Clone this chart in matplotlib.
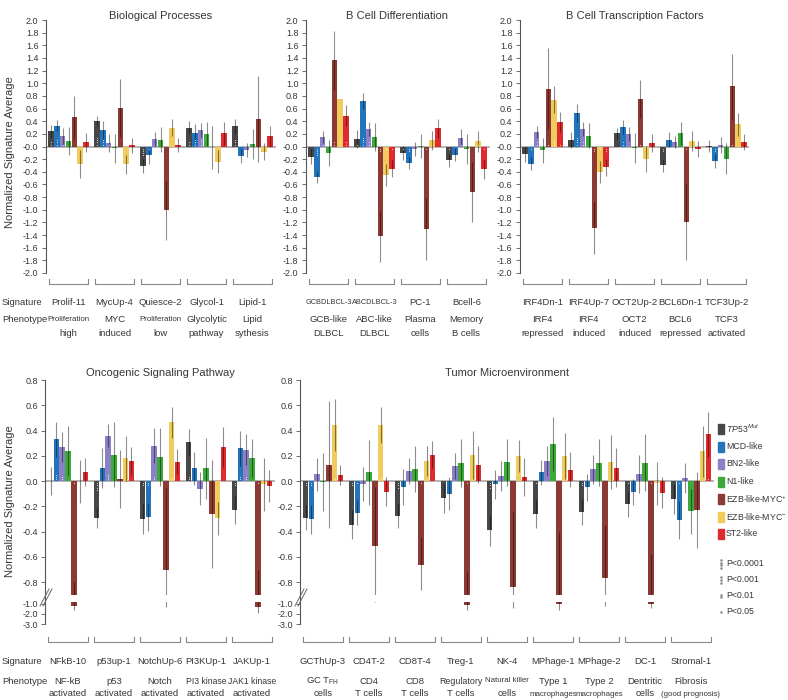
import numpy as np
import matplotlib.pyplot as plt
from matplotlib.patches import Rectangle
from matplotlib.lines import Line2D
from matplotlib.transforms import ScaledTranslation, blended_transform_factory

plt.rcParams['font.family'] = ['Liberation Sans', 'DejaVu Sans']
plt.rcParams['mathtext.fontset'] = 'custom'
plt.rcParams['mathtext.rm'] = 'Liberation Sans'
plt.rcParams['mathtext.it'] = 'Liberation Sans:italic'
plt.rcParams['axes.unicode_minus'] = False

# subtypes (legend) and colours
subtypes = [r'$\mathit{TP53^{Mut}}$', 'MCD-like', 'BN2-like', 'N1-like',
            r'EZB-like-MYC$^{+}$', r'EZB-like-MYC$^{-}$', 'ST2-like']
colors = ['#474747', '#2474bb', '#8b81c6', '#3da93a', '#8e3a34', '#f1cb5b', '#df2a2f']
pvals = ['P<0.0001', 'P<0.001', 'P<0.01', 'P<0.05']

# ---- Biological Processes
bio_sig_names = ['Prolif-11', 'MycUp-4', 'Quiesce-2', 'Glycol-1', 'Lipid-1']
bio_phen = [('Proliferation', 'high'), ('MYC', 'induced'), ('Proliferation', 'low'),
            ('Glycolytic', 'pathway'), ('Lipid', 'sythesis')]
bio_vals = [[0.24, 0.33, 0.16, 0.09, 0.46, -0.28, 0.07],
            [0.40, 0.26, 0.06, -0.03, 0.61, -0.28, 0.02],
            [-0.31, -0.14, 0.12, 0.11, -1.01, 0.30, 0.03],
            [0.30, 0.21, 0.26, 0.20, -0.01, -0.24, 0.21],
            [0.32, -0.15, -0.06, 0.04, 0.44, -0.08, 0.16]]
bio_errs = [[0.10, 0.09, 0.13, 0.22, 0.34, 0.22, 0.15],
            [0.08, 0.14, 0.14, 0.23, 0.46, 0.15, 0.12],
            [0.11, 0.13, 0.11, 0.20, 0.47, 0.13, 0.11],
            [0.10, 0.14, 0.11, 0.19, 0.34, 0.18, 0.18],
            [0.12, 0.11, 0.11, 0.24, 0.68, 0.13, 0.16]]
bio_sig = [[2, 3, 1, 0, 0, 0, 0], [4, 3, 1, 0, 0, 0, 0], [4, 1, 0, 0, 0, 0, 0],
           [2, 3, 3, 0, 0, 0, 0], [3, 0, 0, 0, 0, 0, 0]]

# ---- B Cell Differentiation
bcd_sig_names = ['GCBDLBCL-3', 'ABCDLBCL-3', 'PC-1', 'Bcell-6']
bcd_phen = [('GCB-like', 'DLBCL'), ('ABC-like', 'DLBCL'), ('Plasma', 'cells'), ('Memory', 'B cells')]
bcd_vals = [[-0.16, -0.48, 0.15, -0.10, 1.36, 0.75, 0.49],
            [0.12, 0.72, 0.28, 0.15, -1.42, -0.45, -0.35],
            [-0.10, -0.26, -0.04, 0.01, -1.30, 0.10, 0.29],
            [-0.22, -0.13, 0.14, -0.04, -0.72, 0.08, -0.36]]
bcd_errs = [[0.12, 0.10, 0.10, 0.21, 0.47, 0.0, 0.17],
            [0.14, 0.12, 0.11, 0.22, 0.40, 0.18, 0.13],
            [0.11, 0.10, 0.11, 0.19, 0.49, 0.15, 0.15],
            [0.10, 0.10, 0.13, 0.24, 0.48, 0.17, 0.15]]
bcd_sig = [[0, 4, 1, 0, 2, 3, 2], [1, 4, 2, 0, 2, 1, 1], [1, 2, 0, 0, 1, 0, 0], [1, 0, 1, 0, 0, 1, 1]]

# ---- B Cell Transcription Factors
tf_sig_names = ['IRF4Dn-1', 'IRF4Up-7', 'OCT2Up-2', 'BCL6Dn-1', 'TCF3Up-2']
tf_phen = [('IRF4', 'repressed'), ('IRF4', 'induced'), ('OCT2', 'induced'),
           ('BCL6', 'repressed'), ('TCF3', 'activated')]
tf_vals = [[-0.12, -0.27, 0.23, -0.06, 0.91, 0.74, 0.39],
           [0.10, 0.53, 0.27, 0.17, -1.29, -0.40, -0.33],
           [0.21, 0.31, 0.20, -0.02, 0.75, -0.20, 0.06],
           [-0.30, 0.11, 0.07, 0.21, -1.19, 0.09, -0.04],
           [0.01, -0.23, 0.02, -0.19, 0.95, 0.35, 0.07]]
tf_errs = [[0.12, 0.10, 0.10, 0.20, 0.64, 0.21, 0.16],
           [0.13, 0.14, 0.11, 0.20, 0.41, 0.17, 0.13],
           [0.09, 0.11, 0.11, 0.24, 0.30, 0.21, 0.14],
           [0.11, 0.12, 0.10, 0.18, 0.61, 0.16, 0.13],
           [0.10, 0.11, 0.13, 0.24, 0.51, 0.18, 0.13]]
tf_sig = [[0, 1, 2, 0, 1, 3, 1], [0, 4, 2, 0, 2, 1, 2], [0, 2, 0, 0, 1, 0, 0],
          [2, 0, 0, 0, 1, 0, 0], [0, 2, 0, 0, 1, 0, 0]]

# ---- Oncogenic Signaling Pathway
onc_sig_names = ['NFkB-10', 'p53up-1', 'NotchUp-6', 'PI3KUp-1', 'JAKUp-1']
onc_phen = [('NF-kB', 'activated'), ('p53', 'activated'), ('Notch', 'activated'),
            ('PI3 kinase', 'activated'), ('JAK1 kinase', 'activated')]
onc_vals = [[0.0, 0.33, 0.27, 0.24, -1.2, 0.0, 0.07],
            [-0.29, 0.105, 0.36, 0.21, 0.02, 0.18, 0.16],
            [-0.30, -0.285, 0.28, 0.19, -0.70, 0.465, 0.155],
            [0.31, 0.10, -0.06, 0.10, -0.26, -0.295, 0.27],
            [-0.23, 0.26, 0.25, 0.18, -1.3, -0.025, -0.04]]
onc_errs = [[0.11, 0.14, 0.12, 0.20, 0.40, 0.17, 0.11],
            [0.08, 0.16, 0.09, 0.26, 0.23, 0.18, 0.11],
            [0.12, 0.11, 0.14, 0.23, 0.645, 0.125, 0.10],
            [0.10, 0.13, 0.13, 0.24, 0.43, 0.13, 0.16],
            [0.11, 0.14, 0.12, 0.15, 0.60, 0.21, 0.125]]
onc_sig = [[0, 3, 2, 0, 1, 0, 0], [4, 0, 3, 0, 0, 0, 0], [2, 2, 2, 0, 0, 1, 0],
           [2, 0, 0, 0, 0, 0, 0], [2, 2, 2, 0, 1, 0, 0]]

# ---- Tumor Microenvironment
tme_sig_names = ['GCThUp-3', 'CD4T-2', 'CD8T-4', 'Treg-1', 'NK-4', 'MPhage-1', 'MPhage-2', 'DC-1', 'Stromal-1']
tme_phen = [(r'GC T$_{\mathrm{FH}}$', 'cells'), ('CD4', 'T cells'), ('CD8', 'T cells'),
            ('Regulatory', 'T cells'), ('Natural killer', 'cells'), ('Type 1', 'macrophages'),
            ('Type 2', 'macrophages'), ('Dentritic', 'cells'), ('Fibrosis', '(good prognosis)')]
tme_vals = [[-0.29, -0.30, 0.055, -0.01, 0.13, 0.445, 0.05],
            [-0.345, -0.25, -0.025, 0.07, -0.515, 0.445, -0.085],
            [-0.275, -0.045, 0.08, 0.095, -0.66, 0.16, 0.21],
            [-0.135, -0.10, 0.12, 0.145, -1.15, 0.21, 0.13],
            [-0.39, -0.025, 0.04, 0.15, -0.84, 0.20, 0.035],
            [-0.26, 0.07, 0.16, 0.295, -1.0, 0.20, 0.09],
            [-0.245, -0.05, 0.095, 0.145, -0.77, 0.15, 0.105],
            [-0.18, -0.085, 0.06, 0.145, -1.0, -0.015, -0.09],
            [-0.14, -0.305, 0.025, -0.24, -0.23, 0.235, 0.37]]
tme_errs = [[0.10, 0.115, 0.13, 0.23, 0.50, 0.205, 0.08],
            [0.115, 0.10, 0.135, 0.255, 0.465, 0.145, 0.115],
            [0.095, 0.14, 0.105, 0.18, 0.215, 0.12, 0.11],
            [0.115, 0.13, 0.105, 0.19, 0.44, 0.19, 0.145],
            [0.125, 0.115, 0.12, 0.185, 0.595, 0.125, 0.15],
            [0.11, 0.10, 0.12, 0.215, 0.60, 0.18, 0.14],
            [0.105, 0.11, 0.115, 0.185, 0.42, 0.215, 0.155],
            [0.10, 0.105, 0.15, 0.225, 0.42, 0.17, 0.125],
            [0.12, 0.15, 0.12, 0.18, 0.30, 0.20, 0.18]]
tme_sig = [[2, 2, 0, 0, 0, 1, 0], [2, 1, 0, 0, 0, 1, 0], [3, 0, 0, 0, 1, 0, 0],
           [0, 0, 0, 0, 1, 0, 0], [3, 0, 0, 0, 0, 0, 0], [1, 0, 0, 0, 0, 0, 0],
           [2, 0, 0, 0, 0, 0, 0], [1, 0, 0, 0, 1, 0, 0], [0, 1, 0, 0, 0, 0, 1]]

top_ticks = np.round(np.arange(-2.0, 2.01, 0.2), 1)
bot_ticks = [0.8, 0.6, 0.4, 0.2, 0.0, -0.2, -0.4, -0.6, -0.8, -1.0, -2.0, -3.0]

# broken axis for bottom row: compressed below -0.8
brk_v = [-10.0, -3.0, -2.0, -1.0, -0.8, 10.0]
brk_s = [-1.69, -1.13, -1.05, -0.97, -0.8, 10.0]


def fwd(v):
    return np.interp(v, brk_v, brk_s)


def inv(s):
    return np.interp(s, brk_s, brk_v)


W, H = 788, 700
GROUP = 46
TXT = '#363636'
fig = plt.figure(figsize=(W / 100, H / 100), dpi=100)
# labels that are set in a condensed face in the original
condensed = {'Proliferation': 5.7, 'Natural killer': 5.7, 'macrophages': 5.7,
             '(good prognosis)': 5.7, 'GCBDLBCL-3': 5.3, 'ABCDLBCL-3': 5.3,
             'PI3 kinase': 6.2, 'JAK1 kinase': 6.2, 'Regulatory': 6.4}
offsets = (np.arange(7) - 3) * 0.126


def fy(py):
    return 1 - py / H


def panel(left, top, bottom, vals, errs, sigs, title, title_y, names, phen, ylim, ticks,
          rows, broken=False):
    n = len(vals)
    ax = fig.add_axes([left / W, fy(bottom), n * GROUP / W, (bottom - top) / H])
    if broken:
        ax.set_yscale('function', functions=(fwd, inv))
    vals = np.array(vals)
    errs = np.array(errs)
    sigs = np.array(sigs)
    for k in range(7):
        x = np.arange(n) + offsets[k]
        v = vals[:, k]
        ax.bar(x, v, width=0.118, color=colors[k], zorder=2, linewidth=0)
        ax.errorbar(x, v, yerr=errs[:, k], fmt='none', ecolor='black', alpha=0.45,
                    elinewidth=0.8, capsize=0, zorder=2.2)
        for d in range(4):
            for sgn in (1, -1):
                m = (sigs[:, k] > d) & (np.sign(v) == sgn)
                if not m.any():
                    continue
                off = ScaledTranslation(0, sgn * (2.0 + 2.3 * d) / 100, fig.dpi_scale_trans)
                ax.plot(x[m], np.zeros(m.sum()), ls='none', marker='o', ms=0.8,
                        mfc='white', mec='none', alpha=0.8,
                        transform=ax.transData + off, zorder=3)
    ax.axhline(0, color='#a8a8a8', lw=1.2, zorder=1.5)
    if broken:
        ax.axhspan(-0.98, -0.915, color='white', lw=0, zorder=2.4)
    ax.set_xlim(-0.5, n - 0.5)
    ax.set_ylim(*ylim)
    ax.set_yticks(ticks)
    ax.set_yticklabels([f'{t:.1f}' for t in ticks])
    ax.set_xticks([])
    for s in ('top', 'right', 'bottom'):
        ax.spines[s].set_visible(False)
    ax.spines['left'].set_color('#555555')
    ax.spines['left'].set_linewidth(0.8)
    ax.spines['left'].set_bounds(*ylim)
    ax.tick_params(axis='y', direction='out', length=3, width=0.6, color='#555555',
                   labelsize=6.5, labelcolor=TXT, pad=2)
    ax.patch.set_visible(False)

    # title
    fig.text((left + n * GROUP / 2) / W, fy(title_y), title, ha='center', va='center',
             fontsize=8, color=TXT)

    # brackets and labels under each group
    tr = blended_transform_factory(ax.transData, fig.transFigure)
    yb, ys, yp1, yp2 = rows
    for i in range(n):
        ax.add_line(Line2D([i - 0.43, i - 0.43, i + 0.43, i + 0.43],
                           [fy(yb - 5), fy(yb), fy(yb), fy(yb - 5)], transform=tr,
                           color='#888888', lw=0.8, clip_on=False))
        nm = names[i]
        ax.text(i, fy(ys), nm, transform=tr, ha='center', va='center', color=TXT,
                fontsize=condensed.get(nm, 6.8))
        for txt, yy in zip(phen[i], (yp1, yp2)):
            ax.text(i, fy(yy), txt, transform=tr, ha='center', va='center', color=TXT,
                    fontsize=condensed.get(txt, 6.8))
    return ax


top_rows = (284, 302, 320, 334)
bot_rows = (642, 662, 681, 694)
panel(45.5, 20, 273, bio_vals, bio_errs, bio_sig, 'Biological Processes', 16,
      bio_sig_names, bio_phen, (-2.0, 2.0), top_ticks, top_rows)
panel(305.5, 20, 273, bcd_vals, bcd_errs, bcd_sig, 'B Cell Differentiation', 16,
      bcd_sig_names, bcd_phen, (-2.0, 2.0), top_ticks, top_rows)
panel(519.5, 20, 273, tf_vals, tf_errs, tf_sig, 'B Cell Transcription Factors', 16,
      tf_sig_names, tf_phen, (-2.0, 2.0), top_ticks, top_rows)
panel(45, 380, 624, onc_vals, onc_errs, onc_sig, 'Oncogenic Signaling Pathway', 373,
      onc_sig_names, onc_phen, (-3.0, 0.8), bot_ticks, bot_rows, broken=True)
panel(300, 380, 624, tme_vals, tme_errs, tme_sig, 'Tumor Microenvironment', 373,
      tme_sig_names, tme_phen, (-3.0, 0.8), bot_ticks, bot_rows, broken=True)

# break marks on the bottom axes
for x0 in (45, 300):
    for dx in (0, 3):
        fig.add_artist(Line2D([(x0 - 5 + dx) / W, (x0 + 4 + dx) / W], [fy(606), fy(589)],
                              color='#666666', lw=0.7))

# y labels
fig.text(10 / W, fy(152), 'Normalized Signature Average', rotation=90, ha='center',
         va='center', fontsize=8, color=TXT)
fig.text(10 / W, fy(501), 'Normalized Signature Average', rotation=90, ha='center',
         va='center', fontsize=8, color=TXT)

# row headers
for yy in (302, 662):
    fig.text(2 / W, fy(yy), 'Signature', ha='left', va='center', fontsize=6.8, color=TXT)
for yy in (320, 681):
    fig.text(2 / W, fy(yy), 'Phenotype', ha='left', va='center', fontsize=6.8, color=TXT)

# legend
for i, (lab, c) in enumerate(zip(subtypes, colors)):
    yc = 429 + 17.5 * i
    fig.add_artist(Rectangle((718 / W, fy(yc + 5)), 6 / W, 10 / H, color=c,
                             transform=fig.transFigure))
    fig.text(726 / W, fy(yc), lab, ha='left', va='center', fontsize=6.3, color=TXT)
for i, lab in enumerate(pvals):
    yc = 564 + 16 * i
    nd = 4 - i
    ys = yc + (np.arange(nd) - (nd - 1) / 2) * 2.6
    fig.add_artist(Line2D([721 / W] * nd, [fy(y) for y in ys], ls='none', marker='o',
                          ms=0.8, color='#888888'))
    fig.text(726 / W, fy(yc), lab, ha='left', va='center', fontsize=6.3, color=TXT)

fig.savefig('out.png', dpi=100)
